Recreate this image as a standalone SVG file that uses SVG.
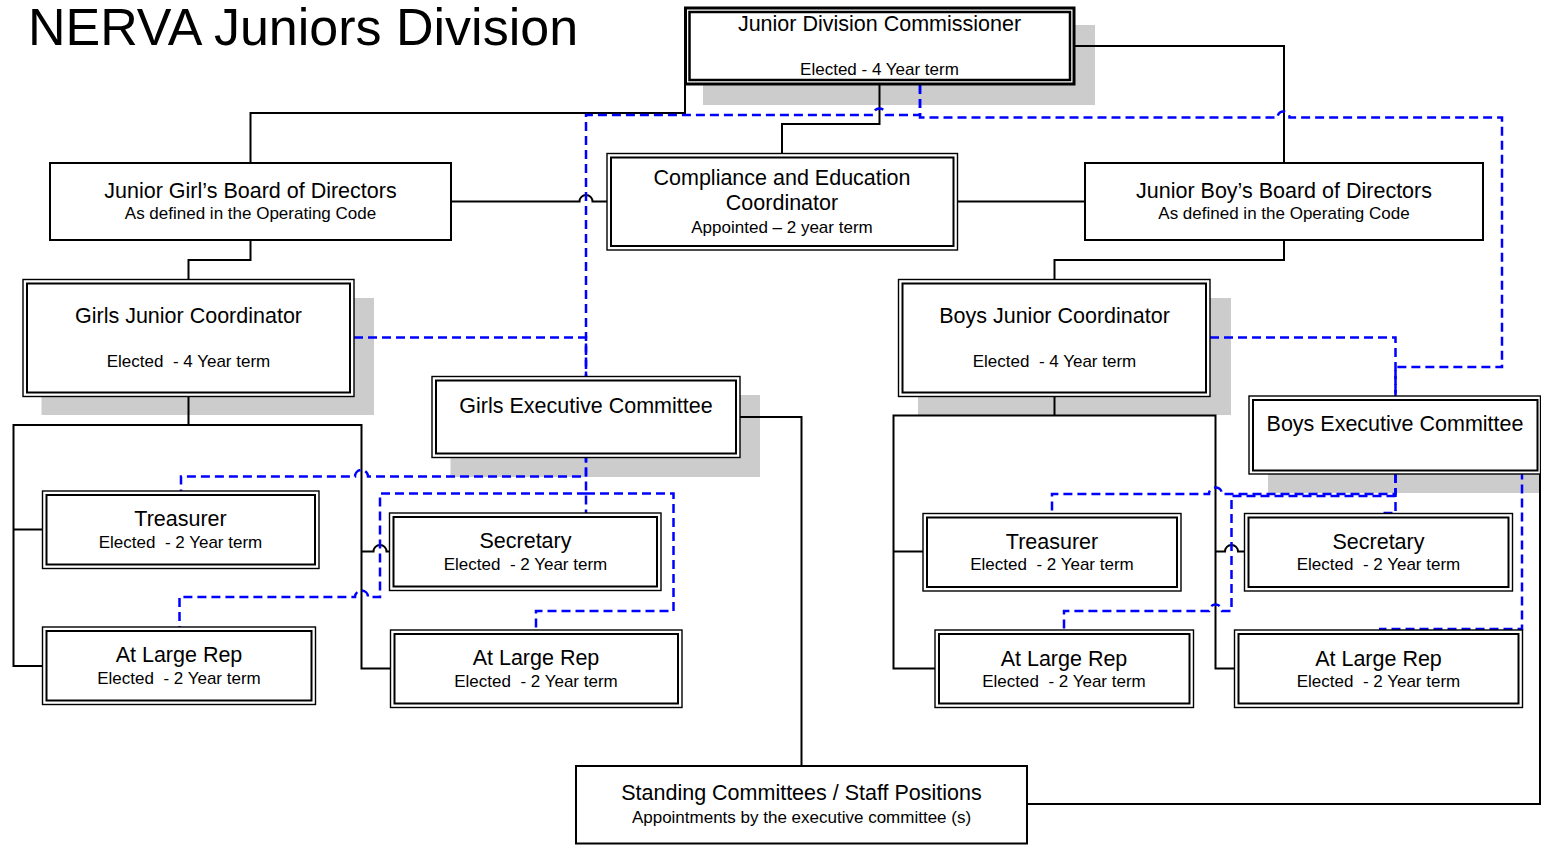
<svg xmlns="http://www.w3.org/2000/svg" width="1541" height="845" viewBox="0 0 1541 845">
<style>
text{font-family:"Liberation Sans",Arial,sans-serif;fill:#000;text-anchor:middle;white-space:pre}
.t{font-size:21.5px}
.s{font-size:17px}
.sh{fill:#cccccc;stroke:none}
.o{fill:#fff;stroke:#000;stroke-width:1.4}
.i{fill:none;stroke:#000;stroke-width:2}
.b{fill:#fff;stroke:#000;stroke-width:2}
.ln{fill:none;stroke:#000;stroke-width:2}
.bl{fill:none;stroke:#0000ff;stroke-width:2.5;stroke-dasharray:9 5}
</style>
<rect width="1541" height="845" fill="#fff"/>
<text x="28" y="45" style="font-size:52px;text-anchor:start">NERVA Juniors Division</text>

<g id="shadows">
<rect class="sh" x="703" y="25" width="392" height="80"/>
<rect class="sh" x="41.5" y="298" width="332.5" height="117"/>
<rect class="sh" x="450.5" y="395" width="309.5" height="82"/>
<rect class="sh" x="918" y="298" width="313" height="117"/>
<rect class="sh" x="1268" y="415" width="273" height="78"/>
</g>

<g id="connectors">
<path class="ln" d="M685,85 V113 H250.5 V163"/>
<path class="ln" d="M879.5,85 V124 H782 V153.5"/>
<path class="ln" d="M1075,46 H1284 V163"/>
<path class="ln" d="M451,201.5 H579.5 A6.5,6.5 0 0 1 592.5,201.5 H607"/>
<path class="ln" d="M957.5,201.5 H1085"/>
<path class="ln" d="M250.5,241 V260 H188.5 V279.5"/>
<path class="ln" d="M1284,241 V260 H1054.5 V279.5"/>
<path class="ln" d="M188.5,396.5 V425"/>
<path class="ln" d="M42.5,666 H13.5 V425 H361.5 V668.5 H390.5"/>
<path class="ln" d="M13.5,529.5 H42.5"/>
<path class="ln" d="M361.5,551.5 H373.5 A6.5,6.5 0 0 1 386.5,551.5 H389.5"/>
<path class="ln" d="M1054.5,396.5 V415.5"/>
<path class="ln" d="M935,668.5 H893.5 V415.5 H1215.5 V668.5 H1234.5"/>
<path class="ln" d="M893.5,551.5 H923"/>
<path class="ln" d="M1215.5,551.5 H1225 A6.5,6.5 0 0 1 1238,551.5 H1244.5"/>
<path class="ln" d="M740,417 H801.5 V766"/>
<path class="ln" d="M1540,474 V804 H1027"/>

<path class="bl" d="M920,85 V115 H886 A6.5,6.5 0 0 0 873,115 H586 V376.5"/>
<path class="bl" d="M920,85 V117.5 H1277.5 A6,6 0 0 1 1289.5,117.5 H1502 V367 H1395.5 V396"/>
<path class="bl" d="M354,337.5 H586 V376.5"/>
<path class="bl" d="M1210,337.5 H1395.5 V396"/>
<path class="bl" d="M586,453.5 V476.5 H368 A6.5,6.5 0 0 0 355,476.5 H181 V491"/>
<path class="bl" d="M586,453.5 V513"/>
<path class="bl" d="M586,493.5 H380 V597 H368 A6.5,6.5 0 0 0 355,597 H179.5 V627"/>
<path class="bl" d="M586,493.5 H673.5 V611 H536 V630"/>
<path class="bl" d="M1395.5,474 V494 H1222 A6.5,6.5 0 0 0 1209,494 H1052 V513.5"/>
<path class="bl" d="M1395.5,474 V513 H1379"/>
<path class="bl" d="M1395.5,496 H1231.5 V611 H1222 A6.5,6.5 0 0 0 1209,611 H1064 V630"/>
<path class="bl" d="M1522,470.5 V629 H1379"/>
</g>

<g id="commissioner">
<rect x="685.5" y="8" width="388.5" height="76" fill="#fff" stroke="#000" stroke-width="3"/>
<rect x="689.5" y="12" width="380.5" height="68" fill="none" stroke="#000" stroke-width="2.5"/>
<text class="t" x="879.5" y="31">Junior Division Commissioner</text>
<text class="s" x="879.5" y="75">Elected - 4 Year term</text>
</g>

<g id="girls-board">
<rect class="b" x="50" y="163" width="401" height="77"/>
<text class="t" x="250.5" y="198">Junior Girl’s Board of Directors</text>
<text class="s" x="250.5" y="219">As defined in the Operating Code</text>
</g>

<g id="compliance">
<rect class="o" x="607" y="153.5" width="350.5" height="96.5"/>
<rect class="i" x="611" y="157.5" width="342.5" height="88.5"/>
<text class="t" x="782" y="184.5">Compliance and Education</text>
<text class="t" x="782" y="210">Coordinator</text>
<text class="s" x="782" y="233">Appointed – 2 year term</text>
</g>

<g id="boys-board">
<rect class="b" x="1085" y="163" width="398" height="77"/>
<text class="t" x="1284" y="198">Junior Boy’s Board of Directors</text>
<text class="s" x="1284" y="219">As defined in the Operating Code</text>
</g>

<g id="girls-coordinator">
<rect class="o" x="23" y="279.5" width="331" height="117"/>
<rect class="i" x="27" y="283.5" width="323" height="109"/>
<text class="t" x="188.5" y="322.5">Girls Junior Coordinator</text>
<text class="s" x="188.5" y="367">Elected  - 4 Year term</text>
</g>

<g id="boys-coordinator">
<rect class="o" x="898.5" y="279.5" width="311.5" height="117"/>
<rect class="i" x="902.5" y="283.5" width="303.5" height="109"/>
<text class="t" x="1054.5" y="322.5">Boys Junior Coordinator</text>
<text class="s" x="1054.5" y="367">Elected  - 4 Year term</text>
</g>

<g id="girls-executive">
<rect class="o" x="432" y="376.5" width="308" height="81"/>
<rect class="i" x="436" y="380.5" width="300" height="73"/>
<text class="t" x="586" y="412.5">Girls Executive Committee</text>
</g>

<g id="boys-executive">
<rect class="o" x="1249" y="396" width="291.5" height="78"/>
<rect class="i" x="1253" y="400" width="284.5" height="70.5"/>
<text class="t" x="1395" y="430.5">Boys Executive Committee</text>
</g>

<g id="girls-treasurer">
<rect class="o" x="42.5" y="491" width="276.5" height="77.5"/>
<rect class="i" x="46.5" y="495" width="268.5" height="69.5"/>
<text class="t" x="180.5" y="526">Treasurer</text>
<text class="s" x="180.5" y="548">Elected  - 2 Year term</text>
</g>

<g id="girls-secretary">
<rect class="o" x="389.5" y="513" width="271.5" height="77.5"/>
<rect class="i" x="393.5" y="517" width="263.5" height="69.5"/>
<text class="t" x="525.5" y="548">Secretary</text>
<text class="s" x="525.5" y="569.5">Elected  - 2 Year term</text>
</g>

<g id="girls-atlarge-1">
<rect class="o" x="42.5" y="627" width="273" height="77.5"/>
<rect class="i" x="46.5" y="631" width="265" height="69.5"/>
<text class="t" x="179" y="661.5">At Large Rep</text>
<text class="s" x="179" y="683.5">Elected  - 2 Year term</text>
</g>

<g id="girls-atlarge-2">
<rect class="o" x="390.5" y="630" width="291.5" height="77.5"/>
<rect class="i" x="394.5" y="634" width="283.5" height="69.5"/>
<text class="t" x="536" y="664.5">At Large Rep</text>
<text class="s" x="536" y="686.5">Elected  - 2 Year term</text>
</g>

<g id="boys-treasurer">
<rect class="o" x="923" y="513.5" width="258" height="77.5"/>
<rect class="i" x="927" y="517.5" width="250" height="69.5"/>
<text class="t" x="1052" y="548.5">Treasurer</text>
<text class="s" x="1052" y="570">Elected  - 2 Year term</text>
</g>

<g id="boys-secretary">
<rect class="o" x="1244.5" y="513.5" width="268" height="77.5"/>
<rect class="i" x="1248.5" y="517.5" width="260" height="69.5"/>
<text class="t" x="1378.5" y="548.5">Secretary</text>
<text class="s" x="1378.5" y="570">Elected  - 2 Year term</text>
</g>

<g id="boys-atlarge-1">
<rect class="o" x="935" y="630" width="258.5" height="77.5"/>
<rect class="i" x="939" y="634" width="250.5" height="69.5"/>
<text class="t" x="1064" y="665.5">At Large Rep</text>
<text class="s" x="1064" y="687">Elected  - 2 Year term</text>
</g>

<g id="boys-atlarge-2">
<rect class="o" x="1234.5" y="630" width="288" height="77.5"/>
<rect class="i" x="1238.5" y="634" width="280" height="69.5"/>
<text class="t" x="1378.5" y="665.5">At Large Rep</text>
<text class="s" x="1378.5" y="687">Elected  - 2 Year term</text>
</g>

<g id="standing">
<rect class="b" x="576" y="766" width="451" height="77.5"/>
<text class="t" x="801.5" y="800">Standing Committees / Staff Positions</text>
<text class="s" x="801.5" y="822.5">Appointments by the executive committee (s)</text>
</g>
</svg>
